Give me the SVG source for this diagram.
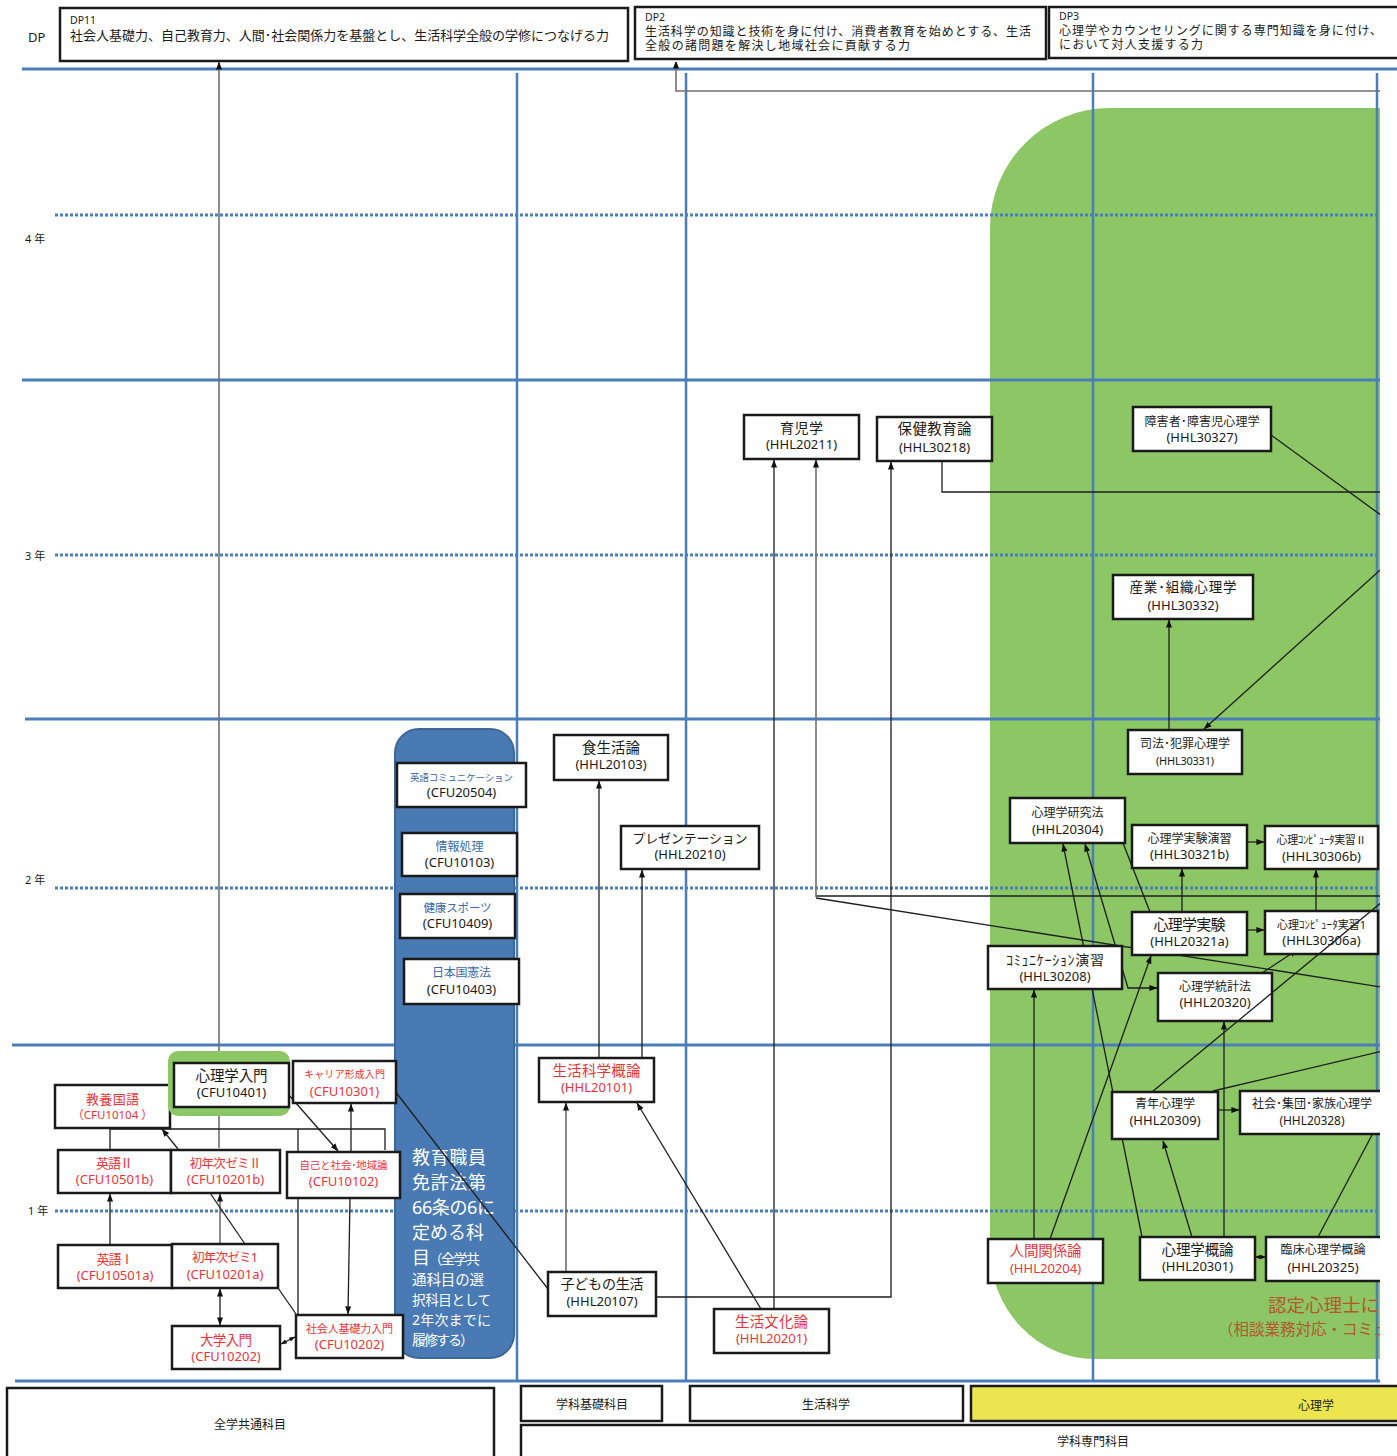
<svg xmlns="http://www.w3.org/2000/svg" width="1397" height="1456" viewBox="0 0 1397 1456">
<defs>
<style>
text{font-family:"Noto Sans","Noto Sans CJK JP",sans-serif;fill:#1a1a1a}
.m{text-anchor:middle}
.cd{font-size:13px}
.rd{fill:#ee3338}
.bl{fill:#3a6aa8}
.bx{fill:#fff;stroke:#1a1a1a;stroke-width:2.5}
.hl{stroke:#4a7ebb;stroke-width:3;fill:none}
.vl{stroke:#4a7ebb;stroke-width:2.5;fill:none}
.dl{stroke:#4a7ebb;stroke-width:3;stroke-dasharray:3 2;fill:none}
.c{fill:none;stroke:#1e1e1e;stroke-width:1.3}
.cg{fill:none;stroke:#707070;stroke-width:1.6}
.yl{font-size:11px}
.lb{font-size:12px;text-anchor:middle}
.wt{fill:#fff}
.br{fill:#b4572b}
</style>
<marker id="ah" viewBox="0 0 10 10" refX="9.5" refY="5" markerWidth="8" markerHeight="8" markerUnits="userSpaceOnUse" orient="auto-start-reverse"><path d="M0,1.2 L10,5 L0,8.8 z" fill="#111"/></marker>
<marker id="ahs" viewBox="0 0 10 10" refX="9.5" refY="5" markerWidth="6" markerHeight="6" markerUnits="userSpaceOnUse" orient="auto-start-reverse"><path d="M0,1.2 L10,5 L0,8.8 z" fill="#111"/></marker>
<clipPath id="cl"><rect x="0" y="62" width="1380" height="1322"/></clipPath>
</defs>
<rect width="1397" height="1456" fill="#fff"/>

<g id="dp-boxes">
<text x="28" y="42" font-size="13">DP</text>
<g id="dp11">
<rect x="60" y="8" width="568" height="53" class="bx" stroke-width="2"/>
<text x="70" y="24" font-size="10.5">DP11</text>
<text x="70" y="40" font-size="13" textLength="539">社会人基礎力、自己教育力、人間･社会関係力を基盤とし、生活科学全般の学修につなげる力</text>
</g>
<g id="dp2">
<rect x="635" y="7" width="411" height="52" class="bx" stroke-width="2"/>
<text x="645" y="21" font-size="10.5">DP2</text>
<text x="645" y="35.5" font-size="12" textLength="386">生活科学の知識と技術を身に付け、消費者教育を始めとする、生活</text>
<text x="645" y="50" font-size="12" textLength="265">全般の諸問題を解決し地域社会に貢献する力</text>
</g>
<g id="dp3">
<rect x="1049" y="7" width="360" height="51" class="bx" stroke-width="2"/>
<text x="1059" y="20" font-size="10.5">DP3</text>
<text x="1059" y="34.5" font-size="12" textLength="323">心理学やカウンセリングに関する専門知識を身に付け、</text>
<text x="1059" y="49" font-size="12" textLength="144">において対人支援する力</text>
</g>
</g>

<line x1="22" y1="69" x2="1397" y2="69" class="hl"/>

<g clip-path="url(#cl)">
<path id="green-area" d="M1110,108 H1400 V1359 H1095 A105 110 0 0 1 990,1249 V228 A120 120 0 0 1 1110,108 Z" fill="#8cc665"/>

<g id="grid">
<line x1="22" y1="380" x2="1397" y2="380" class="hl"/>
<line x1="25" y1="719" x2="1397" y2="719" class="hl"/>
<line x1="12" y1="1045" x2="1397" y2="1045" class="hl"/>
<line x1="15" y1="1381" x2="1397" y2="1381" class="hl"/>
<line x1="517" y1="73" x2="517" y2="1380" class="vl"/>
<line x1="686" y1="73" x2="686" y2="1380" class="vl"/>
<line x1="1093" y1="73" x2="1093" y2="1380" class="vl"/>
<line x1="1377" y1="73" x2="1377" y2="1380" class="vl"/>
<line x1="55" y1="215" x2="1397" y2="215" class="dl"/>
<line x1="55" y1="555" x2="1397" y2="555" class="dl"/>
<line x1="55" y1="888" x2="1397" y2="888" class="dl"/>
<line x1="55" y1="1211" x2="1397" y2="1211" class="dl"/>
<text x="25" y="243" class="yl">4 年</text>
<text x="25" y="560" class="yl">3 年</text>
<text x="25" y="884" class="yl">2 年</text>
<text x="28" y="1215" class="yl">1 年</text>
</g>

<g id="kyoshoku-column">
<rect x="395" y="729" width="119" height="629" rx="24" fill="#4a7ab3" stroke="#3d6798" stroke-width="2"/>
<text x="412" y="1164" font-size="18" class="wt" textLength="74">教育職員</text>
<text x="412" y="1189" font-size="18" class="wt" textLength="74">免許法第</text>
<text x="412" y="1214" font-size="18" class="wt" textLength="83">66条の6に</text>
<text x="412" y="1239" font-size="18" class="wt" textLength="72">定める科</text>
<text x="412" y="1264" class="wt" textLength="68"><tspan font-size="18">目</tspan><tspan font-size="14">（全学共</tspan></text>
<text x="412" y="1285" font-size="14.5" class="wt" textLength="72">通科目の選</text>
<text x="412" y="1305" font-size="13.5" class="wt" textLength="79">択科目として</text>
<text x="412" y="1325" font-size="14" class="wt" textLength="79">2年次までに</text>
<text x="412" y="1345" font-size="14" class="wt" textLength="62">履修する）</text>
</g>

<g id="connectors">
<line x1="219" y1="1148" x2="219" y2="62" class="cg" marker-end="url(#ah)"/>
<polyline points="1400,91 676,91 676,61" class="cg" marker-end="url(#ah)"/>
<polyline points="942,461 942,492 1400,492" class="c"/>
<line x1="1400" y1="529" x2="1260" y2="427" class="c" marker-end="url(#ah)"/>
<line x1="1400" y1="552" x2="1204" y2="729" class="c" marker-end="url(#ah)"/>
<line x1="1169" y1="730" x2="1169" y2="620" class="c" marker-end="url(#ah)"/>
<line x1="1400" y1="896" x2="816" y2="896" class="c"/>
<line x1="816" y1="897" x2="816" y2="460" class="cg" marker-end="url(#ah)"/>
<line x1="816" y1="898" x2="1400" y2="990" class="c"/>
<line x1="774" y1="1309" x2="774" y2="460" class="c" marker-end="url(#ah)"/>
<polyline points="656,1297 891,1297 891,462" class="c" marker-end="url(#ah)"/>
<line x1="566" y1="1272" x2="566" y2="1103" class="cg" marker-end="url(#ah)"/>
<line x1="599" y1="1058" x2="599" y2="781" class="c" marker-end="url(#ah)"/>
<line x1="642" y1="1058" x2="642" y2="870" class="c" marker-end="url(#ah)"/>
<line x1="761" y1="1309" x2="637" y2="1103" class="c" marker-end="url(#ah)"/>
<line x1="548" y1="1289" x2="388" y2="1082" class="c" marker-end="url(#ah)"/>
<line x1="1034" y1="1239" x2="1034" y2="990" class="c" marker-end="url(#ah)"/>
<line x1="1050" y1="1239" x2="1151" y2="956" class="c" marker-end="url(#ah)"/>
<line x1="1142" y1="1237" x2="1063" y2="844" class="c" marker-end="url(#ah)"/>
<polyline points="1085,844 1128,988 1157,988" class="c" marker-start="url(#ah)" marker-end="url(#ah)"/>
<line x1="1123" y1="843" x2="1150" y2="912" class="c"/>
<line x1="1182" y1="912" x2="1182" y2="869" class="c" marker-end="url(#ah)"/>
<line x1="1247" y1="842" x2="1264" y2="842" class="c" marker-end="url(#ah)"/>
<line x1="1247" y1="930" x2="1264" y2="930" class="c" marker-end="url(#ah)"/>
<line x1="1316" y1="911" x2="1316" y2="870" class="c" marker-end="url(#ah)"/>
<line x1="1262" y1="973" x2="1297" y2="950" class="c" marker-end="url(#ah)"/>
<line x1="1224" y1="1237" x2="1224" y2="1022" class="c" marker-end="url(#ah)"/>
<line x1="1192" y1="1237" x2="1163" y2="1141" class="c" marker-end="url(#ah)"/>
<line x1="1218" y1="1110" x2="1239" y2="1110" class="c" marker-end="url(#ah)"/>
<line x1="1213" y1="1091" x2="1400" y2="1047" class="c"/>
<line x1="1400" y1="1124" x2="1376" y2="1114" class="c" marker-end="url(#ah)"/>
<line x1="1318" y1="1237" x2="1372" y2="1135" class="c"/>
<line x1="1255" y1="1257" x2="1266" y2="1257" class="c" marker-start="url(#ahs)" marker-end="url(#ahs)"/>
<polyline points="110,1150 110,1129 385,1129 385,1150" class="c"/>
<line x1="298" y1="1315" x2="298" y2="1129" class="c"/>
<line x1="178" y1="1149" x2="162" y2="1129" class="c" marker-end="url(#ah)"/>
<line x1="281" y1="1086" x2="338" y2="1151" class="c" marker-start="url(#ah)" marker-end="url(#ah)"/>
<line x1="351" y1="1152" x2="351" y2="1104" class="c" marker-end="url(#ah)"/>
<line x1="110" y1="1245" x2="110" y2="1194" class="c" marker-end="url(#ah)"/>
<line x1="220" y1="1244" x2="220" y2="1194" class="cg" marker-end="url(#ah)"/>
<line x1="210" y1="1193" x2="245" y2="1244" class="c"/>
<line x1="220" y1="1289" x2="220" y2="1325" class="c" marker-start="url(#ah)" marker-end="url(#ah)"/>
<line x1="278" y1="1288" x2="296" y2="1314" class="c"/>
<line x1="281" y1="1344" x2="295" y2="1337" class="c" marker-start="url(#ahs)" marker-end="url(#ahs)"/>
<line x1="350" y1="1198" x2="348" y2="1314" class="c" marker-end="url(#ah)"/>
</g>

<g id="nodes">
<g id="n-kyoyo"><rect x="55" y="1085" width="115" height="43" class="bx"/><text x="112.5" y="1104" class="m rd" font-size="13" textLength="53">教養国語</text><text x="112.5" y="1119" class="m rd" font-size="11.5">（CFU10104 ）</text></g>
<g id="n-shinri-nyumon"><rect x="168" y="1051" width="122" height="65" rx="10" fill="#8cc665"/><rect x="174" y="1063" width="115" height="44" class="bx"/><text x="231.5" y="1081" class="m" font-size="14.5" textLength="72">心理学入門</text><text x="231.5" y="1097" class="m cd">(CFU10401)</text></g>
<g id="n-career"><rect x="293" y="1061" width="103" height="42" class="bx"/><text x="344.5" y="1078" class="m rd" font-size="10" textLength="81">キャリア形成入門</text><text x="344.5" y="1096" class="m cd rd">(CFU10301)</text></g>
<g id="n-eigo2"><rect x="58" y="1150" width="113" height="43" class="bx"/><text x="114.5" y="1168" class="m rd" font-size="13" textLength="37">英語Ⅱ</text><text x="114.5" y="1184" class="m cd rd">(CFU10501b)</text></g>
<g id="n-zemi2"><rect x="171" y="1150" width="109" height="43" class="bx"/><text x="225.5" y="1168" class="m rd" font-size="12.5" textLength="72">初年次ゼミⅡ</text><text x="225.5" y="1184" class="m cd rd">(CFU10201b)</text></g>
<g id="n-jiko"><rect x="287" y="1152" width="113" height="46" class="bx"/><text x="343.5" y="1169" class="m rd" font-size="10.5" textLength="88">自己と社会･地域論</text><text x="343.5" y="1186" class="m cd rd">(CFU10102)</text></g>
<g id="n-eigo1"><rect x="58" y="1245" width="114" height="43" class="bx"/><text x="115" y="1264" class="m rd" font-size="13" textLength="37">英語Ⅰ</text><text x="115" y="1280" class="m cd rd">(CFU10501a)</text></g>
<g id="n-zemi1"><rect x="172" y="1244" width="106" height="44" class="bx"/><text x="225" y="1262" class="m rd" font-size="12.5" textLength="66">初年次ゼミ1</text><text x="225" y="1279" class="m cd rd">(CFU10201a)</text></g>
<g id="n-daigaku"><rect x="172" y="1326" width="108" height="43" class="bx"/><text x="226" y="1345" class="m rd" font-size="13.5" textLength="52">大学入門</text><text x="226" y="1361" class="m cd rd">(CFU10202)</text></g>
<g id="n-shakaijin"><rect x="296" y="1315" width="107" height="43" class="bx"/><text x="349.5" y="1333" class="m rd" font-size="11" textLength="87">社会人基礎力入門</text><text x="349.5" y="1349" class="m cd rd">(CFU10202)</text></g>

<g id="n-eicomm"><rect x="397" y="763" width="129" height="44" class="bx"/><text x="461.5" y="781" class="m bl" font-size="9.5" textLength="103">英語コミュニケーション</text><text x="461.5" y="797" class="m cd">(CFU20504)</text></g>
<g id="n-joho"><rect x="402" y="833" width="115" height="43" class="bx"/><text x="459.5" y="851" class="m bl" font-size="12" textLength="48">情報処理</text><text x="459.5" y="867" class="m cd">(CFU10103)</text></g>
<g id="n-kenko"><rect x="400" y="894" width="115" height="44" class="bx"/><text x="457.5" y="912" class="m bl" font-size="11.5" textLength="68">健康スポーツ</text><text x="457.5" y="928" class="m cd">(CFU10409)</text></g>
<g id="n-kenpo"><rect x="404" y="959" width="115" height="45" class="bx"/><text x="461.5" y="977" class="m bl" font-size="12" textLength="59">日本国憲法</text><text x="461.5" y="994" class="m cd">(CFU10403)</text></g>

<g id="n-shoku"><rect x="554" y="735" width="114" height="45" class="bx"/><text x="611" y="753" class="m" font-size="14.5" textLength="58">食生活論</text><text x="611" y="769" class="m cd">(HHL20103)</text></g>
<g id="n-present"><rect x="621" y="826" width="138" height="43" class="bx"/><text x="690" y="843" class="m" font-size="13" textLength="115">プレゼンテーション</text><text x="690" y="859" class="m cd">(HHL20210)</text></g>
<g id="n-seikatsu-gairon"><rect x="539" y="1058" width="115" height="44" class="bx"/><text x="596.5" y="1076" class="m rd" font-size="14.5" textLength="88">生活科学概論</text><text x="596.5" y="1092" class="m cd rd">(HHL20101)</text></g>
<g id="n-kodomo"><rect x="548" y="1272" width="108" height="44" class="bx"/><text x="602" y="1289" class="m" font-size="14" textLength="83">子どもの生活</text><text x="602" y="1306" class="m cd">(HHL20107)</text></g>
<g id="n-bunka"><rect x="714" y="1309" width="115" height="44" class="bx"/><text x="771.5" y="1327" class="m rd" font-size="14.5" textLength="73">生活文化論</text><text x="771.5" y="1343" class="m cd rd">(HHL20201)</text></g>
<g id="n-ikuji"><rect x="744" y="415" width="115" height="44" class="bx"/><text x="801.5" y="433" class="m" font-size="14" textLength="43">育児学</text><text x="801.5" y="449" class="m cd">(HHL20211)</text></g>
<g id="n-hoken"><rect x="877" y="417" width="115" height="44" class="bx"/><text x="934.5" y="434" class="m" font-size="14.5" textLength="74">保健教育論</text><text x="934.5" y="452" class="m cd">(HHL30218)</text></g>

<g id="n-shogai"><rect x="1133" y="407" width="138" height="44" class="bx"/><text x="1202" y="426" class="m" font-size="12" textLength="115">障害者･障害児心理学</text><text x="1202" y="442" class="m cd">(HHL30327)</text></g>
<g id="n-sangyo"><rect x="1113" y="575" width="140" height="44" class="bx"/><text x="1183" y="592" class="m" font-size="13.5" textLength="107">産業･組織心理学</text><text x="1183" y="610" class="m cd">(HHL30332)</text></g>
<g id="n-shiho"><rect x="1128" y="730" width="114" height="44" class="bx"/><text x="1185" y="748" class="m" font-size="12" textLength="90">司法･犯罪心理学</text><text x="1185" y="765" class="m" font-size="11" textLength="58">(HHL30331)</text></g>
<g id="n-kenkyu"><rect x="1010" y="798" width="115" height="45" class="bx"/><text x="1067.5" y="817" class="m" font-size="12" textLength="72">心理学研究法</text><text x="1067.5" y="834" class="m cd">(HHL20304)</text></g>
<g id="n-enshu"><rect x="1132" y="825" width="115" height="43" class="bx"/><text x="1189.5" y="843" class="m" font-size="12" textLength="84">心理学実験演習</text><text x="1189.5" y="859" class="m cd">(HHL30321b)</text></g>
<g id="n-comp2"><rect x="1265" y="826" width="113" height="43" class="bx"/><text x="1321.5" y="844" class="m" font-size="11" textLength="90">心理ｺﾝﾋﾟｭｰﾀ実習Ⅱ</text><text x="1321.5" y="861" class="m cd">(HHL30306b)</text></g>
<g id="n-jikken"><rect x="1132" y="912" width="115" height="43" class="bx"/><text x="1189.5" y="930" class="m" font-size="15" textLength="72">心理学実験</text><text x="1189.5" y="946" class="m cd">(HHL20321a)</text></g>
<g id="n-comp1"><rect x="1265" y="911" width="113" height="43" class="bx"/><text x="1321.5" y="929" class="m" font-size="11" textLength="89">心理ｺﾝﾋﾟｭｰﾀ実習1</text><text x="1321.5" y="945" class="m cd">(HHL30306a)</text></g>
<g id="n-commen"><rect x="988" y="946" width="134" height="43" class="bx"/><text x="1055" y="965" class="m" font-size="14" textLength="98">ｺﾐｭﾆｹｰｼｮﾝ演習</text><text x="1055" y="981" class="m cd">(HHL30208)</text></g>
<g id="n-tokei"><rect x="1158" y="973" width="114" height="48" class="bx"/><text x="1215" y="991" class="m" font-size="12" textLength="72">心理学統計法</text><text x="1215" y="1007" class="m cd">(HHL20320)</text></g>
<g id="n-seinen"><rect x="1112" y="1092" width="106" height="47" class="bx"/><text x="1165" y="1108" class="m" font-size="12" textLength="60">青年心理学</text><text x="1165" y="1125" class="m cd">(HHL20309)</text></g>
<g id="n-shakai"><rect x="1240" y="1091" width="142" height="43" class="bx"/><text x="1312" y="1108" class="m" font-size="12" textLength="120">社会･集団･家族心理学</text><text x="1312" y="1125" class="m" font-size="12" textLength="65">(HHL20328)</text></g>
<g id="n-ningen"><rect x="988" y="1239" width="115" height="44" class="bx"/><text x="1045.5" y="1256" class="m rd" font-size="14.5" textLength="72">人間関係論</text><text x="1045.5" y="1273" class="m cd rd">(HHL20204)</text></g>
<g id="n-shinri-gairon"><rect x="1140" y="1237" width="115" height="43" class="bx"/><text x="1197.5" y="1255" class="m" font-size="14.5" textLength="72">心理学概論</text><text x="1197.5" y="1271" class="m cd">(HHL20301)</text></g>
<g id="n-rinsho"><rect x="1266" y="1237" width="120" height="44" class="bx"/><text x="1323" y="1254" class="m" font-size="12" textLength="85">臨床心理学概論</text><text x="1323" y="1272" class="m cd">(HHL20325)</text></g>
</g>

<g id="connectors-front">
<line x1="1400" y1="887" x2="1152" y2="1092" class="c"/>
</g>

<g id="nintei-note">
<text x="1268" y="1312" font-size="18.5" class="br">認定心理士に</text>
<text x="1218" y="1335" font-size="15.5" class="br">（相談業務対応・コミュ</text>
</g>
</g>

<g id="category-labels">
<g id="lbl-zengaku"><rect x="7" y="1388" width="487" height="80" class="bx"/><text x="250" y="1429" class="lb">全学共通科目</text></g>
<g id="lbl-kiso"><rect x="521" y="1386" width="141" height="35" class="bx"/><text x="592" y="1409" class="lb">学科基礎科目</text></g>
<g id="lbl-seikatsu"><rect x="690" y="1386" width="273" height="35" class="bx"/><text x="826" y="1409" class="lb">生活科学</text></g>
<g id="lbl-shinri"><rect x="971" y="1386" width="440" height="35" fill="#ebe650" stroke="#1a1a1a" stroke-width="2.5"/><text x="1316" y="1410" class="lb">心理学</text></g>
<g id="lbl-senmon"><rect x="521" y="1425" width="890" height="45" class="bx"/><text x="1093" y="1446" class="lb">学科専門科目</text></g>
</g>
</svg>
